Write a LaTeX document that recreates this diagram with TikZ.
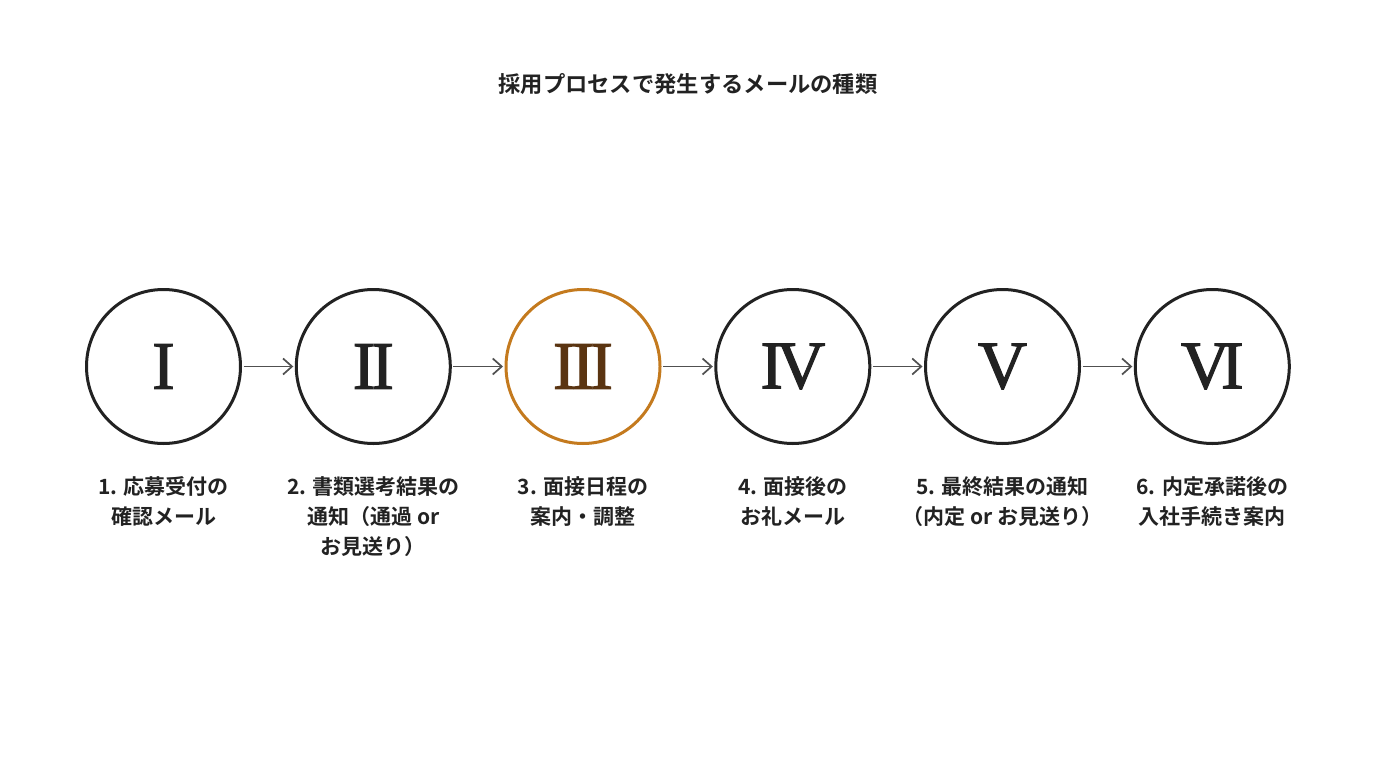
\documentclass[tikz,border=0pt]{standalone}
\usepackage{fontspec}
\setmainfont{Noto Sans CJK JP}[BoldFont={Noto Sans CJK JP Bold}]
\newfontfamily\romanfont{Liberation Serif}[FakeBold=1.6]
\usetikzlibrary{arrows.meta}
\definecolor{ink}{HTML}{222222}
\definecolor{arrowgray}{HTML}{505050}
\definecolor{accent}{HTML}{C47A1E}
\definecolor{accentdark}{HTML}{5A3411}
\newcommand{\numfont}{\romanfont\fontsize{68}{68}\selectfont}
\begin{document}
\begin{tikzpicture}[x=1pt,y=-1pt,
  stepcircle/.style={circle, draw=ink, line width=3pt, minimum size=154pt, inner sep=0pt, text=ink, font=\numfont},
  hlcircle/.style={stepcircle, draw=accent, text=accentdark},
  steplabel/.style={anchor=north, align=center, text=ink, font=\bfseries\fontsize{21}{30}\selectfont, inner sep=0pt},
  flowarrow/.style={draw=arrowgray, line width=1.7pt, -{Straight Barb[length=9pt,width=16pt]}, shorten <=1.5pt, shorten >=1.5pt}
]
\useasboundingbox[fill=white] (0,0) rectangle (1376,768);
\node[text=ink, font=\bfseries\fontsize{22.3}{26}\selectfont] (title) at (688,84) {採用プロセスで発生するメールの種類};

\node[stepcircle] (c1) at (163.5,366.5) {I};
\node[stepcircle] (c2) at (373.3,366.5) {I\kern-4pt I};
\node[hlcircle]   (c3) at (583,366.5) {I\kern-4pt I\kern-4pt I};
\node[stepcircle] (c4) at (792.8,366.5) {I\kern-7pt V};
\node[stepcircle] (c5) at (1002.5,366.5) {V};
\node[stepcircle] (c6) at (1212.3,366.5) {V\kern-9pt I};

\draw[flowarrow] (c1.east) -- (c2.west);
\draw[flowarrow] (c2.east) -- (c3.west);
\draw[flowarrow] (c3.east) -- (c4.west);
\draw[flowarrow] (c4.east) -- (c5.west);
\draw[flowarrow] (c5.east) -- (c6.west);

\node[steplabel] (l1) at (163.5,476) {1. 応募受付の\\確認メール};
\node[steplabel] (l2) at (373.3,476) {2. 書類選考結果の\\通知（通過 or\\お見送り）};
\node[steplabel] (l3) at (583,476) {3. 面接日程の\\案内・調整};
\node[steplabel] (l4) at (792.8,476) {4. 面接後の\\お礼メール};
\node[steplabel] (l5) at (1002.5,476) {5. 最終結果の通知\\（内定 or お見送り）};
\node[steplabel] (l6) at (1212.3,476) {6. 内定承諾後の\\入社手続き案内};
\end{tikzpicture}
\end{document}
